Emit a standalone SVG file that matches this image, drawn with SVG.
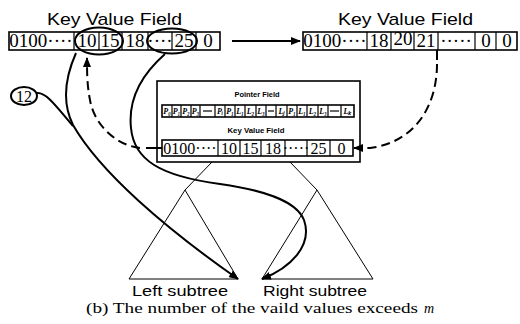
<svg xmlns="http://www.w3.org/2000/svg" width="520" height="324" viewBox="0 0 520 324">
<style>
.box{fill:#fff;stroke:#000;stroke-width:1.6}
.sep{stroke:#000;stroke-width:1.2}
.thin{fill:none;stroke:#000;stroke-width:1}
.cur{fill:none;stroke:#000;stroke-width:2}
.dash{fill:none;stroke:#000;stroke-width:2;stroke-dasharray:9 5}
.ttl{font-family:"Liberation Sans",Arial,sans-serif;font-size:17px;fill:#000}
.sub{font-family:"Liberation Sans",Arial,sans-serif;font-size:15px;fill:#000}
.num{font-family:"Liberation Serif","Times New Roman",serif;font-size:19px;fill:#000;text-anchor:middle}
.num2{font-family:"Liberation Serif","Times New Roman",serif;font-size:16px;fill:#000;text-anchor:middle}
.sm{font-family:"Liberation Sans",Arial,sans-serif;font-size:8px;font-weight:bold;fill:#000;text-anchor:middle}
.ptr{font-family:"Liberation Serif","Times New Roman",serif;font-size:8px;font-style:italic;font-weight:bold;fill:#000;text-anchor:middle}
.cap{font-family:"Liberation Serif","Times New Roman",serif;font-size:14px;fill:#000}
</style>
<defs>
<marker id="ah" markerWidth="10" markerHeight="8" refX="9" refY="4" orient="auto" markerUnits="userSpaceOnUse">
<path d="M0,0 L10,4 L0,8 Z" fill="#000"/>
</marker>
</defs>

<g id="left-array">
<text class="ttl" x="47" y="25" textLength="135" lengthAdjust="spacingAndGlyphs">Key Value Field</text>
<rect class="box" x="9" y="32" width="211" height="18"/>
<line class="sep" x1="74" y1="32" x2="74" y2="50"/>
<line class="sep" x1="99" y1="32" x2="99" y2="50"/>
<line class="sep" x1="122" y1="32" x2="122" y2="50"/>
<line class="sep" x1="148" y1="32" x2="148" y2="50"/>
<line class="sep" x1="172" y1="32" x2="172" y2="50"/>
<line class="sep" x1="196" y1="32" x2="196" y2="50"/>
<text class="num" x="41" y="47">0100····</text>
<text class="num" x="87" y="47">10</text>
<text class="num" x="110" y="47">15</text>
<text class="num" x="135" y="47">18</text>
<text class="num" x="160" y="47">····</text>
<text class="num" x="184" y="47">25</text>
<text class="num" x="208" y="47">0</text>
<ellipse class="cur" cx="99" cy="41" rx="24" ry="13.5"/>
<ellipse class="cur" cx="172" cy="41" rx="25" ry="12.5"/>
</g>

<g id="right-array">
<text class="ttl" x="338" y="25" textLength="135" lengthAdjust="spacingAndGlyphs">Key Value Field</text>
<rect class="box" x="303" y="32" width="214" height="18"/>
<line class="sep" x1="367" y1="32" x2="367" y2="50"/>
<line class="sep" x1="391" y1="32" x2="391" y2="50"/>
<line class="sep" x1="414" y1="32" x2="414" y2="50"/>
<line class="sep" x1="438" y1="32" x2="438" y2="50"/>
<line class="sep" x1="475" y1="32" x2="475" y2="50"/>
<line class="sep" x1="496" y1="32" x2="496" y2="50"/>
<text class="num" x="335" y="47">0100····</text>
<text class="num" x="379" y="47">18</text>
<text class="num" x="403" y="45" font-size="17">20</text>
<text class="num" x="426" y="47">21</text>
<text class="num" x="456" y="47">·····</text>
<text class="num" x="486" y="47">0</text>
<text class="num" x="507" y="47">0</text>
</g>

<g id="node-12">
<ellipse class="cur" cx="24" cy="96" rx="13" ry="9"/>
<text class="num2" x="24" y="102">12</text>
</g>

<g id="center-node">
<rect class="box" x="157" y="81" width="203" height="81" stroke-width="1.2"/>
<text class="sm" x="257" y="97" textLength="45" lengthAdjust="spacingAndGlyphs">Pointer Field</text>
<rect class="box" x="162" y="105" width="192" height="12"/>
<g class="sep">
<line x1="172" y1="105" x2="172" y2="117"/>
<line x1="181" y1="105" x2="181" y2="117"/>
<line x1="191" y1="105" x2="191" y2="117"/>
<line x1="200" y1="105" x2="200" y2="117"/>
<line x1="215" y1="105" x2="215" y2="117"/>
<line x1="225" y1="105" x2="225" y2="117"/>
<line x1="235" y1="105" x2="235" y2="117"/>
<line x1="245" y1="105" x2="245" y2="117"/>
<line x1="256" y1="105" x2="256" y2="117"/>
<line x1="266" y1="105" x2="266" y2="117"/>
<line x1="276" y1="105" x2="276" y2="117"/>
<line x1="287" y1="105" x2="287" y2="117"/>
<line x1="297" y1="105" x2="297" y2="117"/>
<line x1="307" y1="105" x2="307" y2="117"/>
<line x1="318" y1="105" x2="318" y2="117"/>
<line x1="328" y1="105" x2="328" y2="117"/>
<line x1="341" y1="105" x2="341" y2="117"/>
</g>
<text class="ptr" x="167" y="114">P₀</text>
<text class="ptr" x="176.5" y="114">P₁</text>
<text class="ptr" x="186" y="114">P₂</text>
<text class="ptr" x="195.5" y="114">P₃</text>
<line class="sep" x1="203" y1="111" x2="212" y2="111"/>
<text class="ptr" x="220" y="114">Pᵢ</text>
<text class="ptr" x="230" y="114">P₁</text>
<text class="ptr" x="240" y="114">L₁</text>
<text class="ptr" x="250.5" y="114">L₂</text>
<text class="ptr" x="261" y="114">L₃</text>
<line class="sep" x1="268" y1="111" x2="274" y2="111"/>
<text class="ptr" x="281.5" y="114">Lⱼ</text>
<text class="ptr" x="292" y="114">P₁</text>
<text class="ptr" x="302" y="114">L₁</text>
<text class="ptr" x="312.5" y="114">L₂</text>
<text class="ptr" x="323" y="114">L₃</text>
<line class="sep" x1="330" y1="111" x2="339" y2="111"/>
<text class="ptr" x="347.5" y="114">Lₖ</text>
<text class="sm" x="256" y="133" textLength="57" lengthAdjust="spacingAndGlyphs">Key Value Field</text>
<rect class="box" x="162" y="140" width="191" height="16"/>
<line class="sep" x1="218" y1="140" x2="218" y2="156"/>
<line class="sep" x1="240" y1="140" x2="240" y2="156"/>
<line class="sep" x1="261" y1="140" x2="261" y2="156"/>
<line class="sep" x1="285" y1="140" x2="285" y2="156"/>
<line class="sep" x1="307" y1="140" x2="307" y2="156"/>
<line class="sep" x1="330" y1="140" x2="330" y2="156"/>
<text class="num2" x="190" y="154">0100····</text>
<text class="num2" x="229" y="154">10</text>
<text class="num2" x="250.5" y="154">15</text>
<text class="num2" x="273" y="154">18</text>
<text class="num2" x="296" y="154">·····</text>
<text class="num2" x="318.5" y="154">25</text>
<text class="num2" x="341.5" y="154">0</text>
</g>

<g id="left-subtree">
<path class="thin" d="M185,190 L129,279 L238,279 Z"/>
<text class="sub" x="132" y="296" textLength="96" lengthAdjust="spacingAndGlyphs">Left subtree</text>
</g>

<g id="right-subtree">
<path class="thin" d="M317,190 L262,279 L373,279 Z"/>
<text class="sub" x="263" y="296" textLength="104" lengthAdjust="spacingAndGlyphs">Right subtree</text>
</g>

<g id="connectors">
<line class="thin" x1="212" y1="162" x2="185" y2="190"/>
<line class="thin" x1="290" y1="162" x2="317" y2="190"/>
<line class="cur" x1="232" y1="41" x2="300" y2="41" marker-end="url(#ah)"/>
<path class="cur" d="M76,53 C 64,80 63,105 73,125 C 100,172 165,228 238,279" marker-end="url(#ah)"/>
<path class="cur" d="M37,93 C 46,92 56,106 73,126"/>
<path class="cur" d="M165,54 C 140,76 128,100 131,128 C 134,160 160,176 220,184 C 262,190 296,200 304,220 C 313,246 290,268 262,279" marker-end="url(#ah)"/>
<line class="cur" x1="162" y1="148" x2="146" y2="148"/>
<path class="dash" d="M140,148 C 115,145 94,124 90,100 C 87,85 87,72 87,58" marker-end="url(#ah)"/>
<line class="cur" x1="437" y1="50" x2="437" y2="60"/>
<path class="dash" d="M437,64 C 437,105 416,142 370,148 L 354,148" marker-end="url(#ah)"/>
</g>

<g id="caption">
<text class="cap" x="86" y="313" textLength="332" lengthAdjust="spacingAndGlyphs">(b) The number of the vaild values exceeds</text>
<text class="cap" x="424" y="313" font-size="15" font-style="italic">m</text>
</g>
</svg>
